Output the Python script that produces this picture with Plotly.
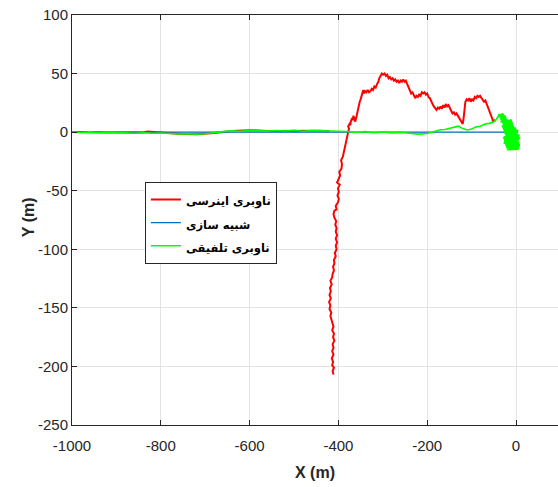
import plotly.graph_objects as go

# ---- data ----
names = ["ناوبری اینرسی", "شبیه سازی", "ناوبری تلفیقی"]

x_ticks = [-1000, -800, -600, -400, -200, 0]
x_tick_text = ["-1000", "-800", "-600", "-400", "-200", "0"]
y_ticks = [100, 50, 0, -50, -100, -150, -200, -250]
y_tick_text = ["100", "50", "0", "-50", "-100", "-150", "-200", "-250"]

# inertial navigation: early part (mostly hidden under the other tracks)
red_x1 = [-1000, -960, -920, -880, -840, -830, -800, -760, -720, -680, -640, -620, -600, -560, -520, -480, -440, -420]
red_y1 = [0.1, 0.2, -0.2, -0.4, -0.4, 0.6, -0.5, -1.4, -1.7, -0.7, 1.0, 1.3, 1.7, 1.0, 1.1, 0.9, 1.2, 0.7]

# inertial navigation: drifting part
red_x2 = [-411, -413, -410, -414, -412, -415, -411, -414, -411, -413, -409, -412, -410, -414, -411,
          -413, -416, -418, -416, -420, -418, -421, -417, -420, -417, -419, -415, -418, -414, -413,
          -410, -412, -409, -410, -406, -408, -404, -406, -403, -406, -403, -406, -404, -407, -405,
          -409, -411, -409, -404, -406, -401, -399, -402, -399, -401, -397, -403, -400, -396, -398,
          -393, -392, -394, -390, -388, -386, -384, -382, -380, -378,
          -376, -378, -375, -373, -372, -369, -368, -366, -364, -362, -360, -358, -356, -354, -352,
          -350, -348, -346, -344, -342, -340, -337, -334, -331, -328, -325, -322, -319, -316, -313,
          -310, -308, -305, -302, -299, -296, -293, -290, -287, -284, -281, -278, -275, -272, -269,
          -266, -263, -260, -257, -254, -251, -248, -245, -242, -239, -236, -233, -230, -227, -224,
          -221, -218, -215, -212, -209, -206, -203, -200, -197, -194, -191, -188, -185, -182, -179,
          -176, -173, -170, -167, -164, -161, -158, -155, -152, -149, -146, -143, -140, -137, -134,
          -131, -128, -125, -122, -120, -118, -117, -116, -114, -111, -108, -105, -102, -99, -96,
          -93, -90, -87, -84, -81, -78, -75, -72, -69, -66, -63, -61, -59, -57, -55,
          -53, -52, -49, -47]
red_y2 = [-207, -204, -201, -199, -196, -193, -190, -187, -184, -181, -178, -175, -172, -169, -166,
          -163, -160, -157, -154, -151, -148, -145, -142, -139, -136, -133, -130, -127, -124, -121,
          -118, -115, -112, -109, -106, -103, -100, -97, -94, -91, -88, -85, -82, -79, -76,
          -73, -70, -67, -66, -63, -60, -57, -54, -51, -48, -45, -43, -40, -37, -34,
          -31, -27, -24, -21, -17, -13, -9, -6, -3, 0,
          3, 5, 7, 6, 9, 12, 10, 14, 11, 9, 12, 16, 20, 23, 26,
          28, 31, 34, 36, 33, 35, 34, 36, 34, 35, 37, 36, 39, 38, 41,
          43, 46, 48, 50, 49, 50, 48, 49, 46, 47, 45, 46, 44, 45, 43,
          44, 42, 44, 43, 45, 43, 44, 41, 38, 35, 33, 34, 31, 29, 31,
          30, 32, 31, 34, 33, 34, 32, 33, 30, 29, 26, 24, 22, 20, 19,
          21, 20, 22, 20, 23, 21, 24, 22, 23, 21, 18, 16, 17, 15, 16,
          14, 12, 10, 8, 7, 12, 18, 23, 26, 28, 27, 29, 26, 28, 27,
          30, 29, 31, 30, 31, 29, 28, 26, 27, 24, 22, 19, 17, 15, 14,
          11, 9, 10, 9]

# simulation (reference trajectory)
blue_x = [-1000, 0]
blue_y = [0, 0]

# integrated navigation
green_x = [-1000, -980, -960, -940, -920, -900, -880, -860, -840, -820, -800, -780, -760, -740, -720,
           -700, -680, -660, -640, -620, -600, -580, -560, -540, -520, -500, -480, -460, -440, -420,
           -400, -380, -360, -340, -320, -300, -280, -260, -240, -220, -200, -190, -180, -170, -160,
           -150, -140, -130, -120, -110, -100, -90, -80, -70, -60, -50, -45, -41,
           -38, -30, -37, -26, -34, -20, -31, -15, -29, -10, -27, -7, -26, -4, -25, 0, -25, 2,
           -24, 4, -24, 5, -23, 6, -23, 7, -22, 7, -22, 8, -21, 8, -21, 6, -18, 4, -24, 8,
           -25, 6, -26, 3, -27, -6, -28, -12, -32, -22, -36, -28,
           -33, -18, -29, -9, -27, -3, -26, 1, -25, 5, -23, 7, -22, 8, -20, 5, -15, 3, -10, 0,
           -19, -28, -12, -31, -6, -35, -16, -24, 2, -20, 9, -14, 7, -8, 4, -2, 8, -18, 6, -12,
           -4, -22, -1, -27, -9, -33, -24, -39, -30]
green_y = [0.0, -0.3, 0.2, -0.5, 0.1, -0.4, -0.6, -0.9, -0.5, -1.0, -0.7, -1.2, -1.6, -1.3, -1.8,
           -1.4, -0.8, 0.4, 1.1, 0.8, 1.5, 1.2, 0.9, 1.4, 1.0, 1.6, 0.8, 1.3, 1.1, 0.6,
           0.2, 0.6, -0.3, 0.4, -0.5, 0.1, -0.6, -0.2, -1.0, -1.7, -1.2, 0.0, 1.0, 2.0, 2.3,
           3.2, 4.5, 5.1, 3.0, 1.8, 2.6, 4.5, 5.0, 6.9, 7.5, 8.9, 10.5, 12.5,
           15, 14, 13, 12.5, 11.5, 11, 10, 9.5, 8.5, 8, 7, 6, 5, 4.5, 3.5, 3, 2, 1,
           0, -0.5, -1.5, -2.5, -3.5, -4.5, -5.5, -6.5, -7.5, -8.5, -9.5, -10.5, -11.5, -12.5, -13.5, -14.5, -15, -13, -11, -9,
           -6, -3, -1, 1.5, 4, 5.5, 8, 9, 11, 12.5, 14, 15.5,
           13, 10, 7, 4, 1, -2, -4, -6, -8, -10, -11, -12, -13, -14, -14.5, -12, -13, -10, -11, -8,
           -14, -4, -12, 6, -9, 12, 10, 3, -6, -15, -11, -13, -2, -14, 2, -9, -5, 8, -12, 11,
           -15, -7, 4, -10, 8, 9, 14, 13, 16]

label_font = dict(family="Liberation Sans, Arial", size=16, color="#262626")
tick_font = dict(family="Liberation Sans, Arial", size=15, color="#262626")


def legend_name(text):
    return "<span style='font-size:11.5px'>" + text + "</span>"


fig = go.Figure()
fig.add_trace(go.Scatter(x=red_x1 + [None] + red_x2, y=red_y1 + [None] + red_y2, mode="lines",
                         name=legend_name(names[0]),
                         line=dict(color="#ff0000", width=2)))
fig.add_trace(go.Scatter(x=blue_x, y=blue_y, mode="lines",
                         name=legend_name(names[1]),
                         line=dict(color="#0072bd", width=1.2)))
fig.add_trace(go.Scatter(x=green_x, y=green_y, mode="lines",
                         name=legend_name(names[2]),
                         line=dict(color="#00ff00", width=1.6)))

axis_common = dict(
    showgrid=True, gridcolor="#e3e3e3", gridwidth=1, zeroline=False,
    showline=True, linecolor="#262626", linewidth=1,
    ticks="inside", ticklen=5, tickcolor="#262626",
    tickfont=tick_font,
)

fig.update_layout(
    width=558, height=487,
    margin=dict(l=72, r=0, t=15, b=62),
    paper_bgcolor="white", plot_bgcolor="white",
    xaxis=dict(range=[-1000, 94.6], tickvals=x_ticks, ticktext=x_tick_text, mirror="ticks",
               ticklabelstandoff=7,
               title=dict(text="<b>X (m)</b>", font=label_font, standoff=13),
               **axis_common),
    yaxis=dict(range=[-250, 100], tickvals=y_ticks, ticktext=y_tick_text,
               **axis_common),
    legend=dict(x=0.15, y=0.593, xanchor="left", yanchor="top",
                bgcolor="white", bordercolor="#262626", borderwidth=1,
                font=dict(family="DejaVu Sans", size=15.5, color="#000000", weight="bold"),
                tracegroupgap=0),
    showlegend=True,
    annotations=[dict(text="<b>Y (m)</b>", font=label_font, textangle=-90,
                      xref="paper", yref="paper", x=-0.0905, y=0.507,
                      xanchor="center", yanchor="middle", showarrow=False)],
)

fig.write_html("out.html")
